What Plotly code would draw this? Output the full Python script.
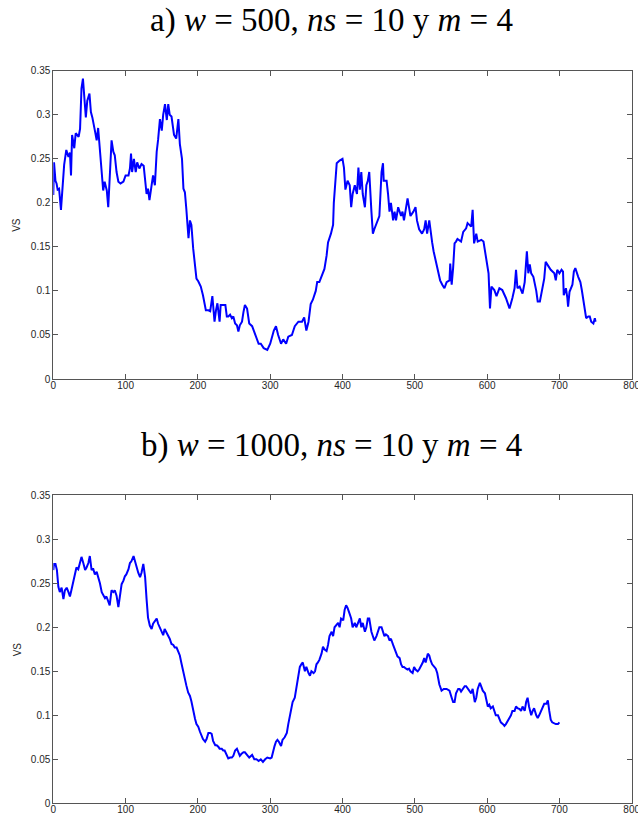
import plotly.graph_objects as go

# Series a: w = 500
xa = [0, 1, 3, 4.5, 6, 8, 10.6, 12, 15, 18, 21, 23, 24.5, 26, 29, 31, 35, 37, 39, 41, 43, 45, 47, 50, 52,
      54, 58, 60, 62, 64.5, 67, 69, 71, 74, 76, 78, 80.6, 83, 85, 87.5, 90, 93, 97, 100, 104, 106, 107.5,
      109, 111.5, 114, 116, 119, 122, 125, 127, 129, 131, 133, 136, 138, 140.5, 143, 145, 147.5, 150, 152,
      154.5, 157, 159, 161, 163.5, 167, 170, 173, 175, 178, 180, 182, 184, 187, 189, 191, 193.5, 196, 198,
      200.5, 204, 207, 209, 211, 214.5, 217, 220, 223, 225, 227, 230, 231.5, 235, 238, 240, 242, 244.5, 247,
      249, 251.5, 254, 256, 258, 261, 263, 265, 268, 271, 275, 280, 284, 287, 291, 296, 298, 300, 305, 308,
      311, 315, 318, 322, 325, 330, 334, 339, 344, 347, 350, 353, 356, 359, 363, 365, 368, 372, 375, 378,
      380, 384, 387, 388, 390, 392, 396, 400, 402, 404, 407, 410, 412, 414, 417, 420, 422, 424, 426, 428,
      431, 433, 435, 437, 440, 442, 444, 448, 451, 454, 456, 457, 461, 463, 465, 467, 470, 472, 474, 477,
      481, 483, 485, 490, 494, 498, 501, 503, 506, 510, 513, 515, 517, 520, 522, 524, 526, 531, 535, 538,
      541, 544, 548, 549, 551, 553, 555, 557, 559, 564, 567, 571, 573, 578, 580, 582, 585, 587, 592, 595,
      599, 602, 604, 606, 610, 613, 617, 621, 626, 631, 635, 638, 640, 642, 645, 649, 652, 655, 657, 659,
      661, 664, 668, 670, 673, 677, 679, 681, 684, 688, 693, 695, 697, 700, 703, 705, 706, 709, 711, 712,
      714, 718, 720, 722, 726, 729, 731, 734, 737, 740, 742, 744, 747, 749, 750]
ya = [0.209, 0.246, 0.225, 0.222, 0.215, 0.216, 0.192, 0.209, 0.243, 0.26, 0.252, 0.257, 0.231, 0.277, 0.262,
      0.279, 0.275, 0.284, 0.33, 0.341, 0.322, 0.297, 0.316, 0.324, 0.303, 0.297, 0.28, 0.271, 0.285, 0.262,
      0.231, 0.214, 0.224, 0.214, 0.195, 0.227, 0.271, 0.258, 0.254, 0.235, 0.224, 0.222, 0.224, 0.231,
      0.231, 0.239, 0.256, 0.235, 0.25, 0.235, 0.246, 0.239, 0.244, 0.242, 0.227, 0.21, 0.216, 0.203, 0.22,
      0.231, 0.22, 0.258, 0.272, 0.295, 0.282, 0.3, 0.312, 0.294, 0.312, 0.3, 0.298, 0.277, 0.273, 0.295,
      0.267, 0.25, 0.216, 0.212, 0.193, 0.16, 0.18, 0.175, 0.148, 0.129, 0.114, 0.111, 0.105, 0.095, 0.084,
      0.078, 0.078, 0.077, 0.094, 0.065, 0.078, 0.086, 0.065, 0.084, 0.084, 0.084, 0.071, 0.071, 0.073,
      0.069, 0.071, 0.063, 0.061, 0.054, 0.061, 0.065, 0.076, 0.084, 0.08, 0.063, 0.06, 0.05, 0.04, 0.04,
      0.035, 0.033, 0.036, 0.04, 0.055, 0.06, 0.05, 0.04, 0.045, 0.04, 0.048, 0.05, 0.06, 0.065, 0.065,
      0.07, 0.055, 0.065, 0.085, 0.09, 0.1, 0.11, 0.11, 0.12, 0.125, 0.14, 0.155, 0.165, 0.175, 0.2, 0.22,
      0.245, 0.248, 0.25, 0.24, 0.215, 0.225, 0.22, 0.195, 0.21, 0.22, 0.21, 0.24, 0.215, 0.235, 0.21,
      0.195, 0.22, 0.225, 0.235, 0.19, 0.165, 0.17, 0.18, 0.185, 0.235, 0.245, 0.225, 0.225, 0.21, 0.19,
      0.2, 0.18, 0.19, 0.18, 0.195, 0.185, 0.19, 0.18, 0.205, 0.185, 0.19, 0.195, 0.18, 0.17, 0.165, 0.17,
      0.18, 0.165, 0.18, 0.165, 0.155, 0.145, 0.127, 0.112, 0.107, 0.103, 0.11, 0.112, 0.131, 0.107, 0.126,
      0.154, 0.156, 0.159, 0.156, 0.167, 0.171, 0.177, 0.173, 0.192, 0.154, 0.165, 0.156, 0.158, 0.156,
      0.133, 0.12, 0.08, 0.105, 0.101, 0.094, 0.103, 0.101, 0.092, 0.08, 0.092, 0.103, 0.124, 0.103, 0.105,
      0.097, 0.11, 0.145, 0.12, 0.13, 0.12, 0.116, 0.1, 0.088, 0.088, 0.103, 0.114, 0.133, 0.129, 0.124,
      0.12, 0.112, 0.124, 0.12, 0.124, 0.122, 0.095, 0.103, 0.092, 0.082, 0.099, 0.107, 0.122, 0.126, 0.116,
      0.11, 0.101, 0.084, 0.069, 0.071, 0.071, 0.065, 0.063, 0.069, 0.065]

# Series b: w = 1000
xb = [0, 1, 3, 5, 7, 9, 11.5, 14, 16, 18.5, 21, 23, 25, 27.5, 30, 32, 34.5, 37, 39, 41.5, 44, 46, 48.5,
      50.5, 53, 55, 57.5, 60, 62, 64.5, 67, 69, 71.5, 73.5, 76, 78, 80.5, 83, 85, 87.5, 90, 92, 94.5, 97,
      99, 101, 104, 106, 108, 111, 113, 115, 117.5, 120, 122, 124.5, 127, 129, 131, 133.5, 136, 138, 140,
      143, 145, 147.5, 150, 152, 154, 157, 159, 161, 163.5, 166, 168, 170.5, 173, 175, 177, 180, 182, 184,
      186.5, 189, 191, 193.5, 196, 198, 200.5, 203, 205, 207, 210, 212, 214.5, 217, 219, 221, 224, 226,
      228.5, 230, 233, 235, 237, 240, 242, 244.5, 247, 249, 251.5, 254, 256, 258, 260, 263, 265, 267.5,
      271, 275, 278, 281, 284, 287, 290, 293, 296, 300, 302, 306, 308, 310, 312, 315, 317, 320, 323, 325,
      328, 331, 334, 336, 338, 341, 343, 345, 348, 350, 353, 355, 357, 360, 362, 364, 366, 368, 371, 373,
      375, 378, 380, 382, 385, 387, 389, 391, 394, 396, 398, 401, 403, 405, 407, 410, 412, 414, 417, 419,
      421, 424, 426, 428, 431, 433, 435, 437, 440, 442, 444, 447, 449, 451, 454, 456, 458, 460, 463, 465,
      467, 470, 472, 474, 476, 479, 481, 483, 485, 488, 490, 492, 494, 497, 499, 501, 504, 506, 508, 511,
      513, 515, 518, 520, 522, 524, 527, 529, 531, 534, 537, 540, 544, 548, 551, 553, 555, 557, 560, 562,
      564, 567, 569, 571, 574, 576, 578, 580, 583, 585, 587, 590, 592, 594, 597, 599, 601, 603, 605, 608,
      610, 612, 615, 617, 619, 622, 624, 626, 628, 631, 633, 635, 638, 640, 642, 645, 647, 649, 652, 654,
      656, 658, 661, 663, 665, 668, 670, 672, 675, 677, 679, 682, 684, 686, 688, 690, 693, 695, 698, 700]
yb = [0.265, 0.272, 0.272, 0.265, 0.246, 0.24, 0.245, 0.232, 0.242, 0.245, 0.24, 0.235, 0.242, 0.251,
      0.258, 0.268, 0.266, 0.273, 0.28, 0.273, 0.265, 0.268, 0.273, 0.281, 0.265, 0.267, 0.26, 0.263, 0.258,
      0.25, 0.24, 0.236, 0.233, 0.235, 0.229, 0.225, 0.242, 0.24, 0.242, 0.236, 0.223, 0.238, 0.249, 0.253,
      0.258, 0.26, 0.266, 0.273, 0.275, 0.281, 0.275, 0.268, 0.262, 0.257, 0.262, 0.272, 0.257, 0.232,
      0.211, 0.202, 0.198, 0.204, 0.207, 0.21, 0.204, 0.2, 0.196, 0.191, 0.198, 0.193, 0.191, 0.187, 0.181,
      0.18, 0.177, 0.177, 0.172, 0.168, 0.16, 0.147, 0.14, 0.134, 0.126, 0.122, 0.116, 0.105, 0.096, 0.09,
      0.087, 0.081, 0.077, 0.073, 0.07, 0.073, 0.08, 0.08, 0.079, 0.071, 0.066, 0.066, 0.064, 0.062, 0.062,
      0.06, 0.06, 0.054, 0.051, 0.052, 0.052, 0.054, 0.06, 0.062, 0.058, 0.054, 0.056, 0.058, 0.058, 0.056,
      0.052, 0.055, 0.05, 0.05, 0.048, 0.05, 0.047, 0.05, 0.052, 0.051, 0.052, 0.065, 0.07, 0.072, 0.07,
      0.065, 0.072, 0.075, 0.08, 0.09, 0.105, 0.115, 0.12, 0.13, 0.145, 0.155, 0.158, 0.16, 0.15, 0.155,
      0.148, 0.145, 0.15, 0.148, 0.15, 0.158, 0.16, 0.163, 0.17, 0.178, 0.175, 0.173, 0.18, 0.19, 0.195,
      0.19, 0.2, 0.202, 0.205, 0.2, 0.21, 0.208, 0.22, 0.225, 0.222, 0.215, 0.21, 0.2, 0.205, 0.2, 0.205,
      0.21, 0.2, 0.205, 0.195, 0.2, 0.21, 0.21, 0.195, 0.19, 0.185, 0.19, 0.195, 0.2, 0.2, 0.195, 0.19,
      0.192, 0.19, 0.185, 0.187, 0.18, 0.175, 0.17, 0.167, 0.165, 0.158, 0.155, 0.155, 0.153, 0.152, 0.153,
      0.15, 0.148, 0.155, 0.152, 0.15, 0.152, 0.155, 0.16, 0.165, 0.16, 0.17, 0.168, 0.162, 0.158, 0.155,
      0.153, 0.148, 0.135, 0.128, 0.13, 0.13, 0.128, 0.12, 0.115, 0.115, 0.125, 0.13, 0.13, 0.127, 0.13,
      0.133, 0.133, 0.13, 0.128, 0.125, 0.13, 0.115, 0.12, 0.13, 0.137, 0.132, 0.128, 0.125, 0.115, 0.11,
      0.112, 0.108, 0.11, 0.105, 0.1, 0.1, 0.095, 0.092, 0.09, 0.088, 0.09, 0.093, 0.097, 0.1, 0.105, 0.105,
      0.11, 0.108, 0.107, 0.105, 0.11, 0.105, 0.115, 0.12, 0.11, 0.1, 0.105, 0.108, 0.1, 0.097, 0.1, 0.105,
      0.108, 0.113, 0.113, 0.117, 0.105, 0.095, 0.092, 0.091, 0.09, 0.09, 0.092]

x_ticks = [0, 100, 200, 300, 400, 500, 600, 700, 800]
y_ticks = [0, 0.05, 0.1, 0.15, 0.2, 0.25, 0.3, 0.35]
y_labels = ["0", "0.05", "0.1", "0.15", "0.2", "0.25", "0.3", "0.35"]
titles = ["a) <i>w</i> = 500, <i>ns</i> = 10 y <i>m</i> = 4",
          "b) <i>w</i> = 1000, <i>ns</i> = 10 y <i>m</i> = 4"]
y_title = "VS"

W, H = 638, 817
# plot areas in pixels: (left, right, top, bottom)
boxes = [(53.3, 631.7, 70.7, 379.0), (53.3, 631.7, 495.3, 803.3)]

fig = go.Figure()
fig.add_trace(go.Scatter(x=xa, y=ya, mode="lines", line=dict(color="#0000ff", width=2),
                         xaxis="x", yaxis="y", showlegend=False))
fig.add_trace(go.Scatter(x=xb, y=yb, mode="lines", line=dict(color="#0000ff", width=2),
                         xaxis="x2", yaxis="y2", showlegend=False))

tick_font = dict(family="Liberation Sans, Arial, sans-serif", size=10, color="#262626")
axis_common = dict(showgrid=False, zeroline=False, showline=True, linecolor="#555555", linewidth=1,
                   mirror="allticks", ticks="inside", ticklen=5, tickcolor="#555555", tickwidth=1,
                   tickfont=tick_font, ticklabeloverflow="allow", automargin=False)

layout = dict(width=W, height=H, margin=dict(l=0, r=0, t=0, b=0),
              paper_bgcolor="white", plot_bgcolor="white", showlegend=False)
annotations = []
for i, (l, r, t, b) in enumerate(boxes):
    sfx = "" if i == 0 else str(i + 1)
    layout["xaxis" + sfx] = dict(axis_common, domain=[l / W, r / W], range=[0, 800],
                                 tickvals=x_ticks, anchor="y" + sfx, ticklabelstandoff=-3)
    layout["yaxis" + sfx] = dict(axis_common, domain=[1 - b / H, 1 - t / H], range=[0, 0.35],
                                 tickvals=y_ticks, ticktext=y_labels, anchor="x" + sfx)
    annotations.append(dict(text=titles[i], xref="paper", yref="paper", x=331 / W,
                            y=1 - (t - 50) / H, xanchor="center", yanchor="middle", showarrow=False,
                            font=dict(family="Liberation Serif, serif", size=33, color="black")))
    annotations.append(dict(text=y_title, xref="paper", yref="paper", x=17 / W,
                            y=1 - (t + b) / 2 / H, xanchor="center", yanchor="middle", showarrow=False,
                            textangle=-90, font=dict(family="Liberation Sans, Arial, sans-serif",
                                                     size=10, color="#262626")))
layout["annotations"] = annotations
fig.update_layout(**layout)
fig.write_html("out.html")
